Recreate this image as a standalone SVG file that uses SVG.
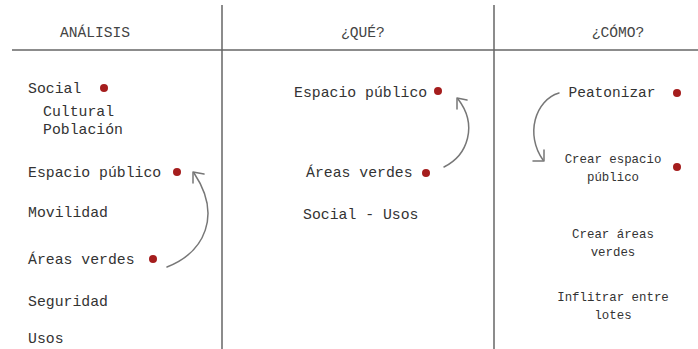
<svg xmlns="http://www.w3.org/2000/svg" width="698" height="349" viewBox="0 0 698 349">
<style>
.t{font-family:"Liberation Mono","DejaVu Sans Mono",monospace;font-size:14.8px;fill:#333}
.h{font-family:"Liberation Mono","DejaVu Sans Mono",monospace;font-size:14.6px;fill:#444;text-anchor:middle}
.s{font-family:"Liberation Mono","DejaVu Sans Mono",monospace;font-size:12.4px;fill:#333;text-anchor:middle}
.c{font-family:"Liberation Mono","DejaVu Sans Mono",monospace;font-size:14.5px;fill:#333;text-anchor:middle}
.d{fill:#a51d1d}
.g{stroke:#666;stroke-width:1.5;fill:none}
.a{stroke:#777;stroke-width:1.5;fill:none;stroke-linecap:round;stroke-linejoin:round}
</style>
<rect width="698" height="349" fill="#fff"/>
<g id="grid">
<line class="g" x1="12" y1="50" x2="698" y2="50"/>
<line class="g" x1="222" y1="5" x2="222" y2="349"/>
<line class="g" x1="494" y1="5" x2="494" y2="349"/>
</g>
<g id="headers">
<text class="h" x="95" y="37">ANÁLISIS</text>
<text class="h" x="363" y="37">¿QUÉ?</text>
<text class="h" x="618" y="37">¿CÓMO?</text>
</g>
<g id="n-social"><text class="t" x="28" y="93">Social</text><circle class="d" cx="104" cy="88" r="4"/></g>
<g id="n-cultural"><text class="t" x="43" y="116">Cultural</text><text class="t" x="43" y="134">Población</text></g>
<g id="n-espacio1"><text class="t" x="28" y="177">Espacio público</text><circle class="d" cx="177" cy="172" r="4"/></g>
<g id="n-movilidad"><text class="t" x="28" y="217">Movilidad</text></g>
<g id="n-areas1"><text class="t" x="28" y="264">Áreas verdes</text><circle class="d" cx="153" cy="259" r="4"/></g>
<g id="n-seguridad"><text class="t" x="28" y="306">Seguridad</text></g>
<g id="n-usos"><text class="t" x="28" y="343">Usos</text></g>
<g id="n-espacio2"><text class="t" x="294" y="97">Espacio público</text><circle class="d" cx="438" cy="91" r="4"/></g>
<g id="n-areas2"><text class="t" x="306" y="177">Áreas verdes</text><circle class="d" cx="426" cy="173" r="4"/></g>
<g id="n-socialusos"><text class="t" x="303" y="219">Social - Usos</text></g>
<g id="n-peatonizar"><text class="c" x="612" y="97">Peatonizar</text><circle class="d" cx="677" cy="93" r="4"/></g>
<g id="n-crearespacio"><text class="s" x="613" y="163">Crear espacio</text><text class="s" x="613" y="181">público</text><circle class="d" cx="677" cy="167" r="4"/></g>
<g id="n-crearareas"><text class="s" x="613" y="238">Crear áreas</text><text class="s" x="613" y="256">verdes</text></g>
<g id="n-inflitrar"><text class="s" x="613" y="301">Inflitrar entre</text><text class="s" x="613" y="319">lotes</text></g>
<g id="connectors">
<path class="a" d="M167,267 C205,252 222,215 194,173"/>
<polyline class="a" points="193,183 193,172 204,174"/>
<path class="a" d="M444,167 C468,155 478,125 458,99"/>
<polyline class="a" points="457,109 457,98 467,100"/>
<path class="a" d="M559,93 C535,100 525,135 543,160"/>
<polyline class="a" points="544,150 544,161 533,161"/>
</g>
</svg>
